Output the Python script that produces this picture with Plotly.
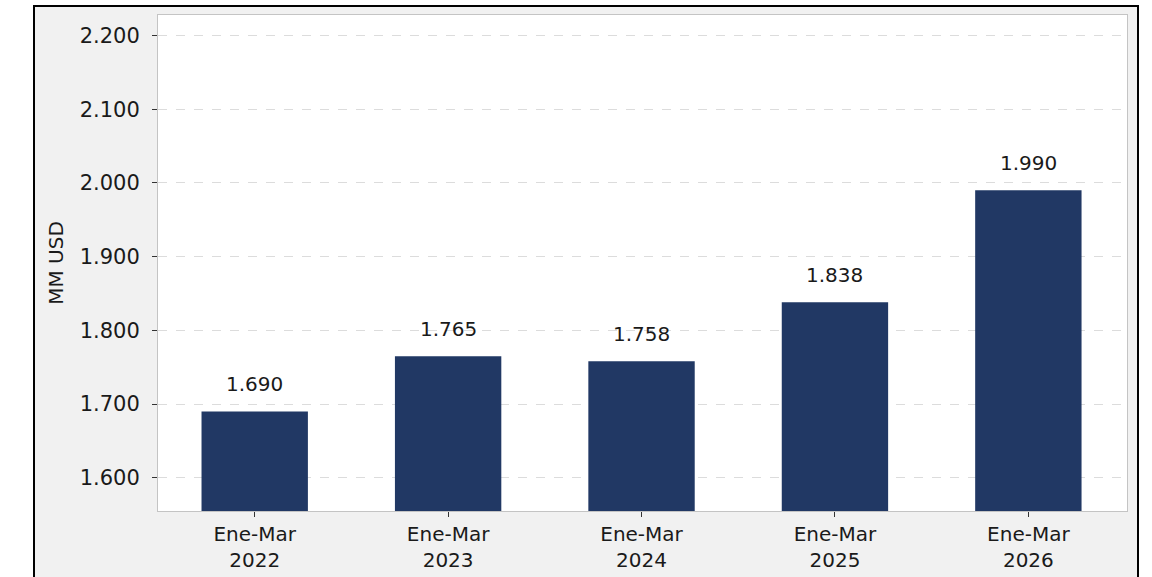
import plotly.graph_objects as go

categories = ["Ene-Mar<br>2022", "Ene-Mar<br>2023", "Ene-Mar<br>2024", "Ene-Mar<br>2025", "Ene-Mar<br>2026"]
values = [1690, 1765, 1758, 1838, 1990]
tick_vals = [1600, 1700, 1800, 1900, 2000, 2100, 2200]
tick_text = ["1.600", "1.700", "1.800", "1.900", "2.000", "2.100", "2.200"]

W, H = 1152, 577
L, R, T, B = 158, 25, 15, 66
pw, ph = W - L - R, H - T - B

def px_x(p):
    return (p - L) / pw

def px_y(p):
    return (H - B - p) / ph

FONT = "DejaVu Sans"
TXT = "#1a1a1a"

fig = go.Figure()
fig.add_trace(go.Bar(
    x=list(range(len(categories))), y=values, width=0.55,
    marker=dict(color="#213864", line=dict(width=0)),
    hoverinfo="skip",
))

for i, v in enumerate(values):
    fig.add_annotation(
        x=i, y=v, xref="x", yref="y",
        text=f"{v:,.0f}".replace(",", "."),
        showarrow=False, yanchor="bottom", yshift=13,
        font=dict(family=FONT, size=20, color=TXT),
    )

# outer framed grey panel
fig.add_shape(
    type="rect", xref="paper", yref="paper",
    x0=px_x(34), x1=px_x(1138), y0=px_y(620), y1=px_y(6),
    line=dict(color="black", width=2), fillcolor="#f1f1f1", layer="below",
)
# white plotting area
fig.add_shape(
    type="rect", xref="paper", yref="paper",
    x0=0, x1=1, y0=0, y1=1,
    line=dict(width=0), fillcolor="white", layer="below",
)

fig.update_layout(
    width=W, height=H,
    margin=dict(l=L, r=R, t=T, b=B, pad=0),
    paper_bgcolor="white", plot_bgcolor="white",
    showlegend=False,
    font=dict(family=FONT, color=TXT),
    xaxis=dict(
        range=[-0.5, 4.51], automargin=False,
        tickvals=list(range(len(categories))), ticktext=categories,
        ticks="outside", ticklen=5, tickcolor="#333", tickwidth=1,
        tickfont=dict(family=FONT, size=20, color=TXT),
        showline=True, linecolor="#c4c4c4", linewidth=1, mirror=True,
        showgrid=False, zeroline=False, fixedrange=True,
    ),
    yaxis=dict(
        range=[1554.8, 2228], automargin=False,
        tickvals=tick_vals, ticktext=tick_text,
        ticks="outside", ticklen=5, tickcolor="#333", tickwidth=1,
        tickfont=dict(family=FONT, size=21, color=TXT),
        ticklabelstandoff=8,
        showline=True, linecolor="#c4c4c4", linewidth=1, mirror=True,
        showgrid=True, gridcolor="#dcdcdc", griddash="dash", gridwidth=1,
        zeroline=False, fixedrange=True,
        title=dict(text="MM USD", font=dict(family=FONT, size=20, color=TXT), standoff=10),
    ),
)

fig.write_html(
    "out.html",
    config={"displayModeBar": False, "staticPlot": True},
    post_script="document.body.style.margin='0px';",
)
